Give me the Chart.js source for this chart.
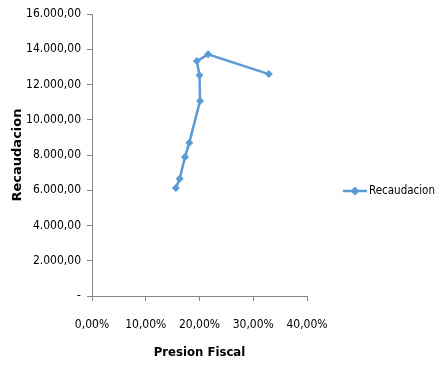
<!DOCTYPE html>
<html>
<head>
<meta charset="utf-8">
<script src="https://cdn.jsdelivr.net/npm/chart.js@4/dist/chart.umd.min.js"></script>
<style>
  html, body { margin: 0; padding: 0; background: #fff; }
  #wrap { width: 441px; height: 380px; }
</style>
</head>
<body>
<div id="wrap"><canvas id="chart" width="441" height="380"></canvas></div>
<script>
// Presion fiscal vs recaudacion

const presionFiscal = [0.156, 0.163, 0.173, 0.181, 0.201, 0.200, 0.195, 0.216, 0.329];
const recaudacion = [6130, 6650, 7880, 8700, 11070, 12530, 13330, 13710, 12590];
const yTicks = [0, 2000, 4000, 6000, 8000, 10000, 12000, 14000, 16000];
const xTicks = [0, 0.1, 0.2, 0.3, 0.4];

const BLUE = '#5B9BD5';
const AXIS = '#868686';
const NARROW = "'DejaVu Sans Condensed', 'Liberation Sans Narrow', sans-serif";

function fmtMiles(v) {
    if (v === 0) return '-';
    const parts = v.toFixed(2).split('.');
    return parts[0].replace(/\B(?=(\d{3})+(?!\d))/g, '.') + ',' + parts[1];
}

function fmtPct(v) {
    return (v * 100).toFixed(2).replace('.', ',') + '%';
}

// legend drawn to the right of the plot, like the excel one
const sideLegend = {
    id: 'sideLegend',
    afterDraw(chart) {
        const ctx = chart.ctx;
        const ds = chart.data.datasets[0];
        const x0 = chart.chartArea.right + 36;
        const y = chart.height / 2 + 1;
        ctx.save();
        ctx.strokeStyle = BLUE;
        ctx.lineWidth = 2.5;
        ctx.beginPath();
        ctx.moveTo(x0, y);
        ctx.lineTo(x0 + 24, y);
        ctx.stroke();
        ctx.fillStyle = BLUE;
        ctx.beginPath();
        ctx.moveTo(x0 + 12, y - 4.5);
        ctx.lineTo(x0 + 16.5, y);
        ctx.lineTo(x0 + 12, y + 4.5);
        ctx.lineTo(x0 + 7.5, y);
        ctx.closePath();
        ctx.fill();
        ctx.fillStyle = '#000';
        ctx.font = '11.5px ' + NARROW;
        ctx.textBaseline = 'middle';
        ctx.fillText(ds.label, x0 + 26, y);
        ctx.restore();
    }
};

new Chart(document.getElementById('chart'), {
    type: 'scatter',
    data: {
        datasets: [{
            label: 'Recaudacion',
            data: presionFiscal.map((p, i) => ({ x: p, y: recaudacion[i] })),
            showLine: true,
            tension: 0,
            borderColor: BLUE,
            backgroundColor: BLUE,
            borderWidth: 2.5,
            pointStyle: 'rectRot',
            pointRadius: 4,
            pointBorderWidth: 0,
            pointHoverRadius: 4
        }]
    },
    options: {
        responsive: false,
        animation: false,
        layout: { padding: { left: 6, top: 14, right: 134, bottom: 16 } },
        plugins: {
            legend: { display: false },
            tooltip: { enabled: false }
        },
        scales: {
            x: {
                type: 'linear',
                min: 0,
                max: 0.4,
                afterBuildTicks: s => { s.ticks = xTicks.map(v => ({ value: v })); },
                afterFit: s => { s.height = 68; },
                border: { display: true, color: AXIS, width: 1 },
                grid: { drawOnChartArea: false, color: AXIS, tickLength: 5 },
                ticks: {
                    color: '#000',
                    padding: 17,
                    font: { family: NARROW, size: 12 },
                    callback: v => fmtPct(v)
                },
                title: {
                    display: true,
                    text: 'Presion Fiscal',
                    color: '#000',
                    font: { family: NARROW, size: 13, weight: 'bold' }
                }
            },
            y: {
                min: 0,
                max: 16000,
                afterBuildTicks: s => { s.ticks = yTicks.map(v => ({ value: v })); },
                afterFit: s => { s.width = 86; },
                border: { display: true, color: AXIS, width: 1 },
                grid: { drawOnChartArea: false, color: AXIS, tickLength: 5 },
                ticks: {
                    color: '#000',
                    padding: 6,
                    font: { family: NARROW, size: 12 },
                    callback: v => fmtMiles(v)
                },
                title: {
                    display: true,
                    text: 'Recaudacion',
                    color: '#000',
                    font: { family: "'DejaVu Sans', sans-serif", size: 13, weight: 'bold' }
                }
            }
        }
    },
    plugins: [sideLegend]
});
</script>
</body>
</html>
